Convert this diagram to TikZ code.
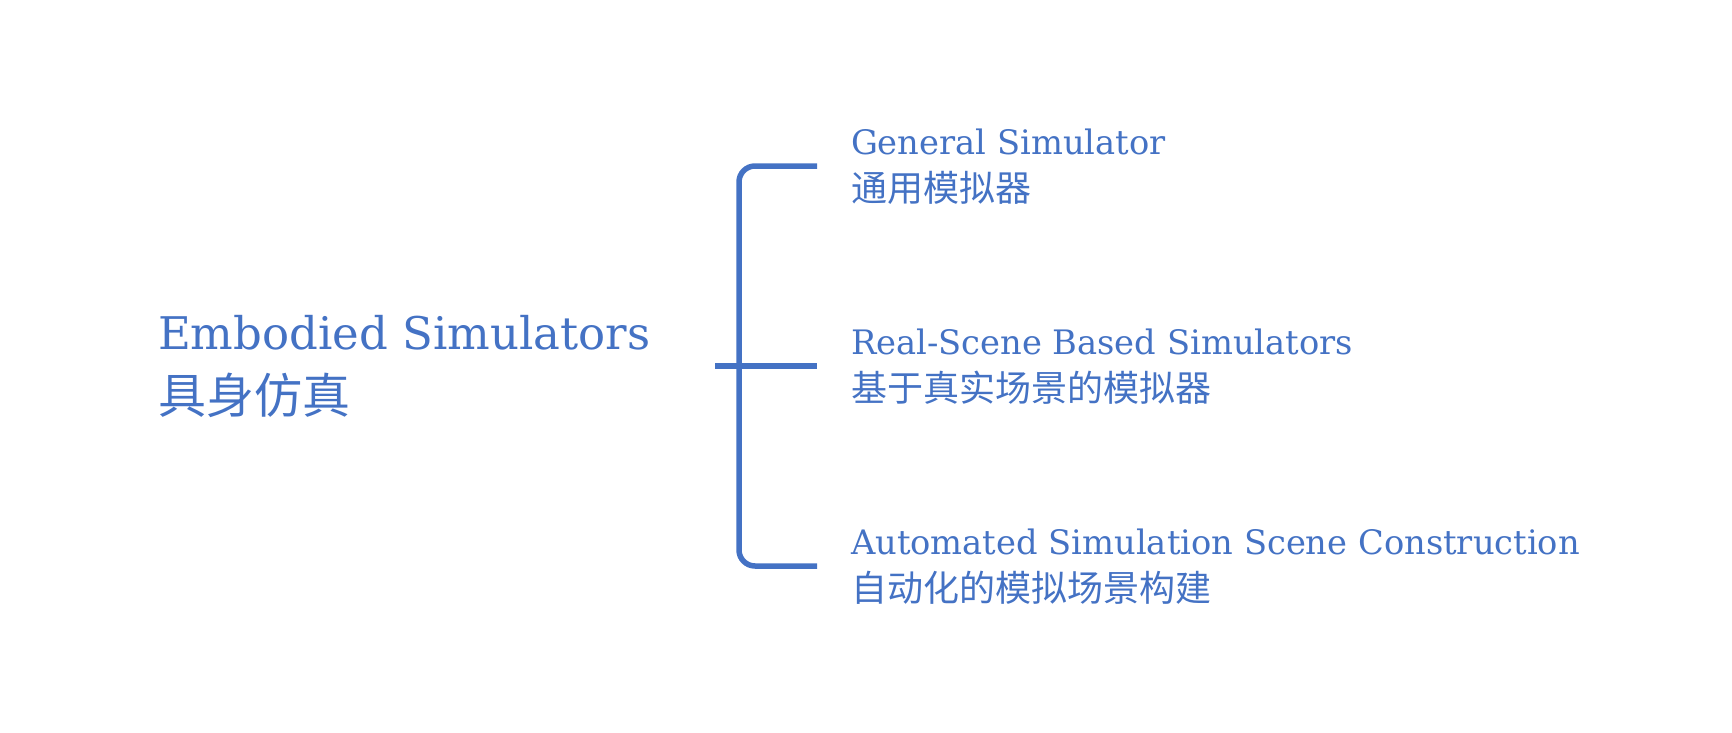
\documentclass[tikz,border=0pt]{standalone}
\usepackage{fontspec}
\setmainfont{DejaVu Serif}
\newfontfamily\cjk{Noto Sans CJK SC}
\definecolor{ob}{HTML}{4472C4}
\begin{document}
\begin{tikzpicture}[x=1pt,y=-1pt,
  every node/.style={inner sep=0pt,outer sep=0pt,text=ob},
  entitle/.style={anchor=base west,font=\fontsize{45}{50}\selectfont},
  zhtitle/.style={anchor=base west,font=\cjk\fontsize{48}{50}\selectfont},
  enitem/.style={anchor=base west,font=\fontsize{33.7}{40}\selectfont},
  zhitem/.style={anchor=base west,font=\cjk\fontsize{36}{40}\selectfont},
  bracketline/.style={draw=ob,line width=5.5pt}]
\useasboundingbox (0,0) rectangle (1732,732);
\node[entitle] (title) at (158,349) {Embodied Simulators};
\node[zhtitle] (titlezh) at (158,413) {具身仿真};
\node[enitem] (gen) at (851,154) {General Simulator};
\node[zhitem] (genzh) at (851,201) {通用模拟器};
\node[enitem] (real) at (851,354) {Real-Scene Based Simulators};
\node[zhitem] (realzh) at (851,401) {基于真实场景的模拟器};
\node[enitem] (auto) at (851,554) {Automated Simulation Scene Construction};
\node[zhitem] (autozh) at (851,601) {自动化的模拟场景构建};
\coordinate (top) at (817,166);
\coordinate (mid) at (817,366);
\coordinate (bot) at (817,566);
\coordinate (hub) at (715,366);
\coordinate (spinetop) at (739,166);
\coordinate (spinebot) at (739,566);
\draw[bracketline,rounded corners=16pt] (top) -- (spinetop) -- (spinebot) -- (bot);
\draw[bracketline] (hub) -- (mid);
\end{tikzpicture}
\end{document}
